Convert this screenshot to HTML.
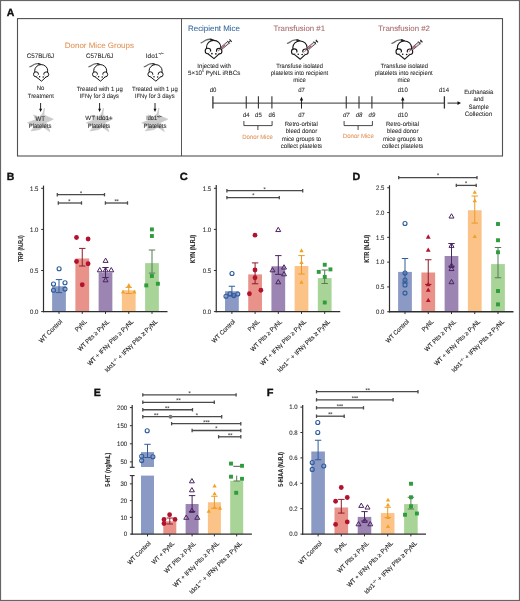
<!DOCTYPE html><html><head><meta charset="utf-8"><style>html,body{margin:0;padding:0;background:#fff;overflow:hidden}svg{display:block;will-change:transform}text{font-family:"Liberation Sans",sans-serif;text-rendering:geometricPrecision}</style></head><body>
<svg width="520" height="601" viewBox="0 0 520 601">
<defs><filter id="blur" x="-20%" y="-20%" width="140%" height="140%"><feGaussianBlur stdDeviation="0.5"/></filter></defs>
<rect x="0" y="0" width="520" height="601" fill="#fff"/>
<rect x="0.5" y="0.5" width="519" height="600" fill="none" stroke="#666" stroke-width="1.2"/>
<text x="6.65" y="15.9" font-size="10.4" fill="#111" font-weight="bold" textLength="7.60" lengthAdjust="spacingAndGlyphs" stroke="#111" stroke-width="0.35">A</text>
<rect x="17.5" y="18.6" width="485.0" height="137.4" fill="none" stroke="#505050" stroke-width="1.1"/>
<line x1="181.50" y1="18.60" x2="181.50" y2="156.00" stroke="#444" stroke-width="0.9"/>
<text x="64.75" y="47.75" font-size="7.9" fill="#e2955a" font-weight="normal" textLength="69.25" lengthAdjust="spacingAndGlyphs"  stroke="#e2955a" stroke-width="0.07">Donor Mice Groups</text>
<text x="26.65" y="58.1" font-size="6.6" fill="#2a2a2a" font-weight="normal" textLength="27.60" lengthAdjust="spacingAndGlyphs"  stroke="#2a2a2a" stroke-width="0.07">C57BL/6J</text>
<text x="86.00" y="58.1" font-size="6.6" fill="#2a2a2a" font-weight="normal" textLength="27.25" lengthAdjust="spacingAndGlyphs"  stroke="#2a2a2a" stroke-width="0.07">C57BL/6J</text>
<text x="145.8" y="58.1" font-size="6.6" fill="#2a2a2a" textLength="18.0" lengthAdjust="spacingAndGlyphs" stroke="#2a2a2a" stroke-width="0.07">Ido1<tspan font-size="3.8" dy="-2.8">−/−</tspan></text>
<g transform="translate(40.6 73.0) scale(1.0)"><path d="M0.4 -8.2 C-1.5 -9.5 -3.5 -9.9 -6 -8.8 C-7.8 -8 -9 -6.8 -10.8 -6.2" fill="none" stroke="#6a6a6a" stroke-width="1.15" stroke-linecap="round"/><path d="M0.8 -8.1 C-0.6 -8.9 -1.6 -9.3 -2.6 -9.4" fill="none" stroke="#222" stroke-width="1.4"/><ellipse cx="0.6" cy="-2.2" rx="6.5" ry="6.2" fill="#fff" stroke="#161616" stroke-width="1.0"/><circle cx="-4.6" cy="1.3" r="2.5" fill="#fff" stroke="#161616" stroke-width="1.0"/><circle cx="5.6" cy="1.4" r="2.5" fill="#fff" stroke="#161616" stroke-width="1.0"/><path d="M-4.5 3.75 L-2.25 1.75 L3.35 1.85 L5.5 3.85 L0.9 8.2 Z" fill="#fff"/><path d="M-4.6 3.75 L0.9 8.2 L5.6 3.85" fill="none" stroke="#161616" stroke-width="1.0" stroke-linejoin="round"/><circle cx="-1.0" cy="3.7" r="0.75" fill="#111"/><circle cx="2.6" cy="3.9" r="0.75" fill="#111"/></g>
<g transform="translate(99.6 73.0) scale(1.0)"><path d="M0.4 -8.2 C-1.5 -9.5 -3.5 -9.9 -6 -8.8 C-7.8 -8 -9 -6.8 -10.8 -6.2" fill="none" stroke="#6a6a6a" stroke-width="1.15" stroke-linecap="round"/><path d="M0.8 -8.1 C-0.6 -8.9 -1.6 -9.3 -2.6 -9.4" fill="none" stroke="#222" stroke-width="1.4"/><ellipse cx="0.6" cy="-2.2" rx="6.5" ry="6.2" fill="#fff" stroke="#161616" stroke-width="1.0"/><circle cx="-4.6" cy="1.3" r="2.5" fill="#fff" stroke="#161616" stroke-width="1.0"/><circle cx="5.6" cy="1.4" r="2.5" fill="#fff" stroke="#161616" stroke-width="1.0"/><path d="M-4.5 3.75 L-2.25 1.75 L3.35 1.85 L5.5 3.85 L0.9 8.2 Z" fill="#fff"/><path d="M-4.6 3.75 L0.9 8.2 L5.6 3.85" fill="none" stroke="#161616" stroke-width="1.0" stroke-linejoin="round"/><circle cx="-1.0" cy="3.7" r="0.75" fill="#111"/><circle cx="2.6" cy="3.9" r="0.75" fill="#111"/></g>
<g transform="translate(155.0 73.0) scale(1.0)"><path d="M0.4 -8.2 C-1.5 -9.5 -3.5 -9.9 -6 -8.8 C-7.8 -8 -9 -6.8 -10.8 -6.2" fill="none" stroke="#6a6a6a" stroke-width="1.15" stroke-linecap="round"/><path d="M0.8 -8.1 C-0.6 -8.9 -1.6 -9.3 -2.6 -9.4" fill="none" stroke="#222" stroke-width="1.4"/><ellipse cx="0.6" cy="-2.2" rx="6.5" ry="6.2" fill="#fff" stroke="#161616" stroke-width="1.0"/><circle cx="-4.6" cy="1.3" r="2.5" fill="#fff" stroke="#161616" stroke-width="1.0"/><circle cx="5.6" cy="1.4" r="2.5" fill="#fff" stroke="#161616" stroke-width="1.0"/><path d="M-4.5 3.75 L-2.25 1.75 L3.35 1.85 L5.5 3.85 L0.9 8.2 Z" fill="#fff"/><path d="M-4.6 3.75 L0.9 8.2 L5.6 3.85" fill="none" stroke="#161616" stroke-width="1.0" stroke-linejoin="round"/><circle cx="-1.0" cy="3.7" r="0.75" fill="#111"/><circle cx="2.6" cy="3.9" r="0.75" fill="#111"/></g>
<text x="40.6" y="90.4" font-size="6.3" text-anchor="middle" fill="#2a2a2a" font-weight="normal" textLength="7.67" lengthAdjust="spacingAndGlyphs"  stroke="#2a2a2a" stroke-width="0.07">No</text>
<text x="27.85" y="97.6" font-size="6.3" fill="#2a2a2a" font-weight="normal" textLength="25.90" lengthAdjust="spacingAndGlyphs"  stroke="#2a2a2a" stroke-width="0.07">Treatment</text>
<text x="76.65" y="90.6" font-size="6.3" fill="#2a2a2a" font-weight="normal" textLength="46.10" lengthAdjust="spacingAndGlyphs"  stroke="#2a2a2a" stroke-width="0.07">Treated with 1 μg</text>
<text x="79.75" y="97.6" font-size="6.3" fill="#2a2a2a" font-weight="normal" textLength="39.25" lengthAdjust="spacingAndGlyphs"  stroke="#2a2a2a" stroke-width="0.07">IFNγ for 3 days</text>
<text x="132.00" y="90.6" font-size="6.3" fill="#2a2a2a" font-weight="normal" textLength="45.75" lengthAdjust="spacingAndGlyphs"  stroke="#2a2a2a" stroke-width="0.07">Treated with 1 μg</text>
<text x="134.75" y="97.6" font-size="6.3" fill="#2a2a2a" font-weight="normal" textLength="39.90" lengthAdjust="spacingAndGlyphs"  stroke="#2a2a2a" stroke-width="0.07">IFNγ for 3 days</text>
<path d="M44.5 108.0 L43.8 115.0 L53.3 119.2 L46.1 122.5 L49.9 131.6 L43.1 127.0 L39.6 129.5 L31.0 130.9 L35.6 125.5 L27.4 122.8 L35.6 119.8 L33.7 115.0 L39.1 117.0 L42.6 114.0 Z" fill="#cbcbcb" stroke="#cbcbcb" stroke-width="0.8" stroke-linejoin="round" filter="url(#blur)"/>
<line x1="40.60" y1="103.00" x2="40.60" y2="109.50" stroke="#111" stroke-width="0.9"/>
<path d="M39.1 108.8 L42.1 108.8 L40.6 111.9 Z" fill="#111"/>
<path d="M103.5 108.0 L102.8 115.0 L112.3 119.2 L105.1 122.5 L108.9 131.6 L102.1 127.0 L98.6 129.5 L90.0 130.9 L94.6 125.5 L86.4 122.8 L94.6 119.8 L92.7 115.0 L98.1 117.0 L101.6 114.0 Z" fill="#cbcbcb" stroke="#cbcbcb" stroke-width="0.8" stroke-linejoin="round" filter="url(#blur)"/>
<line x1="99.60" y1="103.00" x2="99.60" y2="109.50" stroke="#111" stroke-width="0.9"/>
<path d="M98.1 108.8 L101.1 108.8 L99.6 111.9 Z" fill="#111"/>
<path d="M158.9 108.0 L158.2 115.0 L167.7 119.2 L160.5 122.5 L164.3 131.6 L157.5 127.0 L154.0 129.5 L145.4 130.9 L150.0 125.5 L141.8 122.8 L150.0 119.8 L148.1 115.0 L153.5 117.0 L157.0 114.0 Z" fill="#cbcbcb" stroke="#cbcbcb" stroke-width="0.8" stroke-linejoin="round" filter="url(#blur)"/>
<line x1="155.00" y1="103.00" x2="155.00" y2="109.50" stroke="#111" stroke-width="0.9"/>
<path d="M153.5 108.8 L156.5 108.8 L155.0 111.9 Z" fill="#111"/>
<text x="35.55" y="120.8" font-size="6.6" fill="#2a2a2a" font-weight="normal" textLength="9.60" lengthAdjust="spacingAndGlyphs"  stroke="#2a2a2a" stroke-width="0.07">WT</text>
<text x="28.75" y="127.6" font-size="6.3" fill="#2a2a2a" font-weight="normal" textLength="22.70" lengthAdjust="spacingAndGlyphs"  stroke="#2a2a2a" stroke-width="0.07">Platelets</text>
<text x="85.35" y="120.4" font-size="6.3" fill="#2a2a2a" font-weight="normal" textLength="27.40" lengthAdjust="spacingAndGlyphs"  stroke="#2a2a2a" stroke-width="0.07">WT Ido1+</text>
<text x="87.75" y="127.8" font-size="6.3" fill="#2a2a2a" font-weight="normal" textLength="22.50" lengthAdjust="spacingAndGlyphs"  stroke="#2a2a2a" stroke-width="0.07">Platelets</text>
<text x="154.0" y="120.4" font-size="6.3" text-anchor="middle" fill="#2a2a2a" textLength="15.5" lengthAdjust="spacingAndGlyphs" stroke="#2a2a2a" stroke-width="0.07">Ido1<tspan font-size="3.8" dy="-2.8">−/−</tspan></text>
<text x="155.0" y="127.8" font-size="6.3" text-anchor="middle" fill="#2a2a2a" font-weight="normal" textLength="23.01" lengthAdjust="spacingAndGlyphs"  stroke="#2a2a2a" stroke-width="0.07">Platelets</text>
<text x="188.00" y="31.25" font-size="7.9" fill="#3a6a9e" font-weight="normal" textLength="52.00" lengthAdjust="spacingAndGlyphs"  stroke="#3a6a9e" stroke-width="0.07">Recipient Mice</text>
<text x="273.50" y="31.25" font-size="7.8" fill="#aa6a6c" font-weight="normal" textLength="51.50" lengthAdjust="spacingAndGlyphs"  stroke="#aa6a6c" stroke-width="0.07">Transfusion #1</text>
<text x="378.25" y="31.25" font-size="7.8" fill="#aa6a6c" font-weight="normal" textLength="51.75" lengthAdjust="spacingAndGlyphs"  stroke="#aa6a6c" stroke-width="0.07">Transfusion #2</text>
<g transform="translate(213.0 49.6) scale(1.1)"><path d="M0.4 -8.2 C-1.5 -9.5 -3.5 -9.9 -6 -8.8 C-7.8 -8 -9 -6.8 -10.8 -6.2" fill="none" stroke="#6a6a6a" stroke-width="1.15" stroke-linecap="round"/><path d="M0.8 -8.1 C-0.6 -8.9 -1.6 -9.3 -2.6 -9.4" fill="none" stroke="#222" stroke-width="1.4"/><ellipse cx="0.6" cy="-2.2" rx="6.5" ry="6.2" fill="#fff" stroke="#161616" stroke-width="1.0"/><circle cx="-4.6" cy="1.3" r="2.5" fill="#fff" stroke="#161616" stroke-width="1.0"/><circle cx="5.6" cy="1.4" r="2.5" fill="#fff" stroke="#161616" stroke-width="1.0"/><path d="M-4.5 3.75 L-2.25 1.75 L3.35 1.85 L5.5 3.85 L0.9 8.2 Z" fill="#fff"/><path d="M-4.6 3.75 L0.9 8.2 L5.6 3.85" fill="none" stroke="#161616" stroke-width="1.0" stroke-linejoin="round"/><circle cx="-1.0" cy="3.7" r="0.75" fill="#111"/><circle cx="2.6" cy="3.9" r="0.75" fill="#111"/><g transform="translate(8.1 -1.6) rotate(-40)"><line x1="-4.6" y1="0" x2="0" y2="0" stroke="#a24c72" stroke-width="0.75"/><rect x="0" y="-1.05" width="7.9" height="2.1" fill="#ead3dc" stroke="#333" stroke-width="0.65"/><rect x="0.4" y="-0.6" width="3.2" height="1.2" fill="#b0587c"/><line x1="7.9" y1="-1.7" x2="7.9" y2="1.7" stroke="#333" stroke-width="0.7"/><line x1="7.9" y1="0" x2="10.3" y2="0" stroke="#333" stroke-width="0.8"/><line x1="10.3" y1="-1.5" x2="10.3" y2="1.5" stroke="#222" stroke-width="1.0"/></g></g>
<g transform="translate(299.3 50.2) scale(1.1)"><path d="M0.4 -8.2 C-1.5 -9.5 -3.5 -9.9 -6 -8.8 C-7.8 -8 -9 -6.8 -10.8 -6.2" fill="none" stroke="#6a6a6a" stroke-width="1.15" stroke-linecap="round"/><path d="M0.8 -8.1 C-0.6 -8.9 -1.6 -9.3 -2.6 -9.4" fill="none" stroke="#222" stroke-width="1.4"/><ellipse cx="0.6" cy="-2.2" rx="6.5" ry="6.2" fill="#fff" stroke="#161616" stroke-width="1.0"/><circle cx="-4.6" cy="1.3" r="2.5" fill="#fff" stroke="#161616" stroke-width="1.0"/><circle cx="5.6" cy="1.4" r="2.5" fill="#fff" stroke="#161616" stroke-width="1.0"/><path d="M-4.5 3.75 L-2.25 1.75 L3.35 1.85 L5.5 3.85 L0.9 8.2 Z" fill="#fff"/><path d="M-4.6 3.75 L0.9 8.2 L5.6 3.85" fill="none" stroke="#161616" stroke-width="1.0" stroke-linejoin="round"/><circle cx="-1.0" cy="3.7" r="0.75" fill="#111"/><circle cx="2.6" cy="3.9" r="0.75" fill="#111"/><g transform="translate(8.1 -1.6) rotate(-40)"><line x1="-4.6" y1="0" x2="0" y2="0" stroke="#a24c72" stroke-width="0.75"/><rect x="0" y="-1.05" width="7.9" height="2.1" fill="#ead3dc" stroke="#333" stroke-width="0.65"/><rect x="0.4" y="-0.6" width="3.2" height="1.2" fill="#b0587c"/><line x1="7.9" y1="-1.7" x2="7.9" y2="1.7" stroke="#333" stroke-width="0.7"/><line x1="7.9" y1="0" x2="10.3" y2="0" stroke="#333" stroke-width="0.8"/><line x1="10.3" y1="-1.5" x2="10.3" y2="1.5" stroke="#222" stroke-width="1.0"/></g></g>
<g transform="translate(403.8 50.2) scale(1.1)"><path d="M0.4 -8.2 C-1.5 -9.5 -3.5 -9.9 -6 -8.8 C-7.8 -8 -9 -6.8 -10.8 -6.2" fill="none" stroke="#6a6a6a" stroke-width="1.15" stroke-linecap="round"/><path d="M0.8 -8.1 C-0.6 -8.9 -1.6 -9.3 -2.6 -9.4" fill="none" stroke="#222" stroke-width="1.4"/><ellipse cx="0.6" cy="-2.2" rx="6.5" ry="6.2" fill="#fff" stroke="#161616" stroke-width="1.0"/><circle cx="-4.6" cy="1.3" r="2.5" fill="#fff" stroke="#161616" stroke-width="1.0"/><circle cx="5.6" cy="1.4" r="2.5" fill="#fff" stroke="#161616" stroke-width="1.0"/><path d="M-4.5 3.75 L-2.25 1.75 L3.35 1.85 L5.5 3.85 L0.9 8.2 Z" fill="#fff"/><path d="M-4.6 3.75 L0.9 8.2 L5.6 3.85" fill="none" stroke="#161616" stroke-width="1.0" stroke-linejoin="round"/><circle cx="-1.0" cy="3.7" r="0.75" fill="#111"/><circle cx="2.6" cy="3.9" r="0.75" fill="#111"/><g transform="translate(8.1 -1.6) rotate(-40)"><line x1="-4.6" y1="0" x2="0" y2="0" stroke="#a24c72" stroke-width="0.75"/><rect x="0" y="-1.05" width="7.9" height="2.1" fill="#ead3dc" stroke="#333" stroke-width="0.65"/><rect x="0.4" y="-0.6" width="3.2" height="1.2" fill="#b0587c"/><line x1="7.9" y1="-1.7" x2="7.9" y2="1.7" stroke="#333" stroke-width="0.7"/><line x1="7.9" y1="0" x2="10.3" y2="0" stroke="#333" stroke-width="0.8"/><line x1="10.3" y1="-1.5" x2="10.3" y2="1.5" stroke="#222" stroke-width="1.0"/></g></g>
<text x="197.35" y="67.5" font-size="6.3" fill="#2a2a2a" font-weight="normal" textLength="33.65" lengthAdjust="spacingAndGlyphs"  stroke="#2a2a2a" stroke-width="0.07">Injected with</text>
<text x="188" y="75" font-size="6.3" fill="#2a2a2a" textLength="52.3" lengthAdjust="spacingAndGlyphs" stroke="#2a2a2a" stroke-width="0.07">5×10<tspan font-size="3.4" dy="-2.6">5</tspan><tspan dy="2.6"> PyNL iRBCs</tspan></text>
<text x="276.25" y="67.5" font-size="6.3" fill="#2a2a2a" font-weight="normal" textLength="46.75" lengthAdjust="spacingAndGlyphs"  stroke="#2a2a2a" stroke-width="0.07">Transfuse isolated</text>
<text x="270.75" y="75.0" font-size="6.3" fill="#2a2a2a" font-weight="normal" textLength="57.50" lengthAdjust="spacingAndGlyphs"  stroke="#2a2a2a" stroke-width="0.07">platelets into recipient</text>
<text x="299.5" y="81.5" font-size="6.3" text-anchor="middle" fill="#2a2a2a" font-weight="normal" textLength="12.67" lengthAdjust="spacingAndGlyphs"  stroke="#2a2a2a" stroke-width="0.07">mice</text>
<text x="380.75" y="67.5" font-size="6.3" fill="#2a2a2a" font-weight="normal" textLength="47.25" lengthAdjust="spacingAndGlyphs"  stroke="#2a2a2a" stroke-width="0.07">Transfuse isolated</text>
<text x="375.00" y="75.0" font-size="6.3" fill="#2a2a2a" font-weight="normal" textLength="57.75" lengthAdjust="spacingAndGlyphs"  stroke="#2a2a2a" stroke-width="0.07">platelets into recipient</text>
<text x="403.875" y="81.5" font-size="6.3" text-anchor="middle" fill="#2a2a2a" font-weight="normal" textLength="12.67" lengthAdjust="spacingAndGlyphs"  stroke="#2a2a2a" stroke-width="0.07">mice</text>
<line x1="212.90" y1="103.10" x2="444.40" y2="103.10" stroke="#333" stroke-width="1.0"/>
<line x1="212.90" y1="96.30" x2="212.90" y2="108.60" stroke="#333" stroke-width="1.3"/>
<line x1="246.25" y1="96.30" x2="246.25" y2="108.60" stroke="#333" stroke-width="1.1"/>
<line x1="258.40" y1="96.30" x2="258.40" y2="108.60" stroke="#333" stroke-width="1.1"/>
<line x1="271.90" y1="96.30" x2="271.90" y2="108.60" stroke="#333" stroke-width="1.1"/>
<line x1="346.25" y1="96.30" x2="346.25" y2="108.60" stroke="#333" stroke-width="1.1"/>
<line x1="359.00" y1="96.30" x2="359.00" y2="108.60" stroke="#333" stroke-width="1.1"/>
<line x1="371.90" y1="96.30" x2="371.90" y2="108.60" stroke="#333" stroke-width="1.1"/>
<line x1="444.40" y1="96.30" x2="444.40" y2="108.60" stroke="#333" stroke-width="1.3"/>
<text x="213.0" y="92.3" font-size="6.3" text-anchor="middle" fill="#2a2a2a" font-weight="normal" textLength="6.67" lengthAdjust="spacingAndGlyphs"  stroke="#2a2a2a" stroke-width="0.07">d0</text>
<text x="444.0" y="92.0" font-size="6.3" text-anchor="middle" fill="#2a2a2a" font-weight="normal" textLength="10.01" lengthAdjust="spacingAndGlyphs"  stroke="#2a2a2a" stroke-width="0.07">d14</text>
<text x="246.25" y="117.2" font-size="6.3" text-anchor="middle" fill="#2a2a2a" font-weight="normal" textLength="6.67" lengthAdjust="spacingAndGlyphs"  stroke="#2a2a2a" stroke-width="0.07">d4</text>
<text x="258.4" y="117.2" font-size="6.3" text-anchor="middle" fill="#2a2a2a" font-weight="normal" textLength="6.67" lengthAdjust="spacingAndGlyphs"  stroke="#2a2a2a" stroke-width="0.07">d5</text>
<text x="271.9" y="117.2" font-size="6.3" text-anchor="middle" fill="#2a2a2a" font-weight="normal" textLength="6.67" lengthAdjust="spacingAndGlyphs"  stroke="#2a2a2a" stroke-width="0.07">d6</text>
<text x="346.25" y="117.2" font-size="6.3" text-anchor="middle" fill="#2a2a2a" font-weight="normal" textLength="6.67" lengthAdjust="spacingAndGlyphs" font-style="italic" stroke="#2a2a2a" stroke-width="0.07">d7</text>
<text x="359.0" y="117.2" font-size="6.3" text-anchor="middle" fill="#2a2a2a" font-weight="normal" textLength="6.67" lengthAdjust="spacingAndGlyphs" font-style="italic" stroke="#2a2a2a" stroke-width="0.07">d8</text>
<text x="371.9" y="117.2" font-size="6.3" text-anchor="middle" fill="#2a2a2a" font-weight="normal" textLength="6.67" lengthAdjust="spacingAndGlyphs" font-style="italic" stroke="#2a2a2a" stroke-width="0.07">d9</text>
<line x1="301.50" y1="108.60" x2="301.50" y2="99.50" stroke="#111" stroke-width="0.9"/>
<path d="M299.8 100.5 L303.2 100.5 L301.5 96.8 Z" fill="#111"/>
<text x="301.5" y="92.3" font-size="6.3" text-anchor="middle" fill="#2a2a2a" font-weight="normal" textLength="6.67" lengthAdjust="spacingAndGlyphs"  stroke="#2a2a2a" stroke-width="0.07">d7</text>
<text x="301.5" y="117.2" font-size="6.3" text-anchor="middle" fill="#2a2a2a" font-weight="normal" textLength="6.67" lengthAdjust="spacingAndGlyphs"  stroke="#2a2a2a" stroke-width="0.07">d7</text>
<line x1="402.75" y1="108.60" x2="402.75" y2="99.50" stroke="#111" stroke-width="0.9"/>
<path d="M401.05 100.5 L404.45 100.5 L402.75 96.8 Z" fill="#111"/>
<text x="402.75" y="92.3" font-size="6.3" text-anchor="middle" fill="#2a2a2a" font-weight="normal" textLength="10.01" lengthAdjust="spacingAndGlyphs"  stroke="#2a2a2a" stroke-width="0.07">d10</text>
<text x="402.75" y="117.2" font-size="6.3" text-anchor="middle" fill="#2a2a2a" font-weight="normal" textLength="10.01" lengthAdjust="spacingAndGlyphs"  stroke="#2a2a2a" stroke-width="0.07">d10</text>
<text x="284.75" y="125.6" font-size="6.3" fill="#2a2a2a" font-weight="normal" textLength="33.00" lengthAdjust="spacingAndGlyphs"  stroke="#2a2a2a" stroke-width="0.07">Retro-orbital</text>
<text x="285.75" y="133.1" font-size="6.3" fill="#2a2a2a" font-weight="normal" textLength="31.40" lengthAdjust="spacingAndGlyphs"  stroke="#2a2a2a" stroke-width="0.07">bleed donor</text>
<text x="281.65" y="140.6" font-size="6.3" fill="#2a2a2a" font-weight="normal" textLength="39.60" lengthAdjust="spacingAndGlyphs"  stroke="#2a2a2a" stroke-width="0.07">mice groups to</text>
<text x="280.75" y="147.6" font-size="6.3" fill="#2a2a2a" font-weight="normal" textLength="41.40" lengthAdjust="spacingAndGlyphs"  stroke="#2a2a2a" stroke-width="0.07">collect platelets</text>
<text x="386.00" y="125.6" font-size="6.3" fill="#2a2a2a" font-weight="normal" textLength="33.00" lengthAdjust="spacingAndGlyphs"  stroke="#2a2a2a" stroke-width="0.07">Retro-orbital</text>
<text x="387.00" y="133.1" font-size="6.3" fill="#2a2a2a" font-weight="normal" textLength="31.40" lengthAdjust="spacingAndGlyphs"  stroke="#2a2a2a" stroke-width="0.07">bleed donor</text>
<text x="382.90" y="140.6" font-size="6.3" fill="#2a2a2a" font-weight="normal" textLength="39.60" lengthAdjust="spacingAndGlyphs"  stroke="#2a2a2a" stroke-width="0.07">mice groups to</text>
<text x="382.00" y="147.6" font-size="6.3" fill="#2a2a2a" font-weight="normal" textLength="41.40" lengthAdjust="spacingAndGlyphs"  stroke="#2a2a2a" stroke-width="0.07">collect platelets</text>
<path d="M243.9 121.0 L243.9 125.6 L272.1 125.6 L272.1 121.0" fill="none" stroke="#333" stroke-width="0.9"/>
<line x1="257.90" y1="125.60" x2="257.90" y2="130.00" stroke="#333" stroke-width="0.9"/>
<text x="242.25" y="138.6" font-size="6.3" fill="#e2955a" font-weight="normal" textLength="30.50" lengthAdjust="spacingAndGlyphs"  stroke="#e2955a" stroke-width="0.07">Donor Mice</text>
<path d="M344.1 121.0 L344.1 125.6 L372.4 125.6 L372.4 121.0" fill="none" stroke="#333" stroke-width="0.9"/>
<line x1="358.10" y1="125.60" x2="358.10" y2="130.00" stroke="#333" stroke-width="0.9"/>
<text x="342.85" y="138.3" font-size="6.3" fill="#e2955a" font-weight="normal" textLength="30.90" lengthAdjust="spacingAndGlyphs"  stroke="#e2955a" stroke-width="0.07">Donor Mice</text>
<line x1="447.50" y1="103.10" x2="458.50" y2="103.10" stroke="#111" stroke-width="0.9"/>
<path d="M457.5 101.3 L461 103.1 L457.5 104.89999999999999 Z" fill="#111"/>
<text x="464.15" y="93.75" font-size="6.3" fill="#2a2a2a" font-weight="normal" textLength="29.20" lengthAdjust="spacingAndGlyphs"  stroke="#2a2a2a" stroke-width="0.07">Euthanasia</text>
<text x="478.6" y="101.3" font-size="6.3" text-anchor="middle" fill="#2a2a2a" font-weight="normal" textLength="10.01" lengthAdjust="spacingAndGlyphs"  stroke="#2a2a2a" stroke-width="0.07">and</text>
<text x="478.6" y="108.8" font-size="6.3" text-anchor="middle" fill="#2a2a2a" font-weight="normal" textLength="20.34" lengthAdjust="spacingAndGlyphs"  stroke="#2a2a2a" stroke-width="0.07">Sample</text>
<text x="464.75" y="116.3" font-size="6.3" fill="#2a2a2a" font-weight="normal" textLength="27.40" lengthAdjust="spacingAndGlyphs"  stroke="#2a2a2a" stroke-width="0.07">Collection</text>
<text x="6.65" y="179.8" font-size="10.4" fill="#111" font-weight="bold" textLength="7.60" lengthAdjust="spacingAndGlyphs" stroke="#111" stroke-width="0.35">B</text>
<rect x="52.12" y="286.25" width="13.75" height="25.35" fill="#8a9ac5"/>
<rect x="75.38" y="258.5" width="13.75" height="53.10" fill="#e8928a"/>
<rect x="98.62" y="272.5" width="13.75" height="39.10" fill="#9c85b3"/>
<rect x="121.88" y="290.3" width="13.75" height="21.30" fill="#fbc387"/>
<rect x="145.12" y="263.1" width="13.75" height="48.50" fill="#a9d497"/>
<line x1="59.00" y1="279.60" x2="59.00" y2="292.60" stroke="#2f5d9c" stroke-width="1.0"/>
<line x1="55.80" y1="279.60" x2="62.20" y2="279.60" stroke="#2f5d9c" stroke-width="1.0"/>
<line x1="55.80" y1="292.60" x2="62.20" y2="292.60" stroke="#2f5d9c" stroke-width="1.0"/>
<line x1="82.25" y1="248.40" x2="82.25" y2="266.00" stroke="#8e1a2c" stroke-width="1.0"/>
<line x1="79.05" y1="248.40" x2="85.45" y2="248.40" stroke="#8e1a2c" stroke-width="1.0"/>
<line x1="79.05" y1="266.00" x2="85.45" y2="266.00" stroke="#8e1a2c" stroke-width="1.0"/>
<line x1="105.50" y1="267.50" x2="105.50" y2="277.50" stroke="#4b2463" stroke-width="1.0"/>
<line x1="102.30" y1="267.50" x2="108.70" y2="267.50" stroke="#4b2463" stroke-width="1.0"/>
<line x1="102.30" y1="277.50" x2="108.70" y2="277.50" stroke="#4b2463" stroke-width="1.0"/>
<line x1="128.75" y1="287.40" x2="128.75" y2="293.50" stroke="#ec9a22" stroke-width="1.0"/>
<line x1="125.55" y1="287.40" x2="131.95" y2="287.40" stroke="#ec9a22" stroke-width="1.0"/>
<line x1="125.55" y1="293.50" x2="131.95" y2="293.50" stroke="#ec9a22" stroke-width="1.0"/>
<line x1="152.00" y1="250.00" x2="152.00" y2="273.10" stroke="#577a57" stroke-width="1.0"/>
<line x1="148.80" y1="250.00" x2="155.20" y2="250.00" stroke="#577a57" stroke-width="1.0"/>
<line x1="148.80" y1="273.10" x2="155.20" y2="273.10" stroke="#577a57" stroke-width="1.0"/>
<circle cx="59.1" cy="268.75" r="2.0" fill="none" stroke="#2f5d9c" stroke-width="1.15"/>
<circle cx="53.5" cy="284" r="2.0" fill="none" stroke="#2f5d9c" stroke-width="1.15"/>
<circle cx="65" cy="282.75" r="2.0" fill="none" stroke="#2f5d9c" stroke-width="1.15"/>
<circle cx="53.5" cy="290.25" r="2.0" fill="none" stroke="#2f5d9c" stroke-width="1.15"/>
<circle cx="65" cy="289.1" r="2.0" fill="none" stroke="#2f5d9c" stroke-width="1.15"/>
<circle cx="76.5" cy="237.5" r="2.4" fill="#b3122e"/>
<circle cx="88.1" cy="239" r="2.4" fill="#b3122e"/>
<circle cx="76.5" cy="261.5" r="2.4" fill="#b3122e"/>
<circle cx="88.1" cy="263.75" r="2.4" fill="#b3122e"/>
<circle cx="82.25" cy="284.75" r="2.4" fill="#b3122e"/>
<path d="M105.6 258.1 L108.1 262.40000000000003 L103.1 262.40000000000003 Z" fill="none" stroke="#4b2463" stroke-width="1.0" stroke-linejoin="round"/>
<path d="M99.75 267.5 L102.25 271.8 L97.25 271.8 Z" fill="none" stroke="#4b2463" stroke-width="1.0" stroke-linejoin="round"/>
<path d="M105.6 267.5 L108.1 271.8 L103.1 271.8 Z" fill="none" stroke="#4b2463" stroke-width="1.0" stroke-linejoin="round"/>
<path d="M111.25 267.5 L113.75 271.8 L108.75 271.8 Z" fill="none" stroke="#4b2463" stroke-width="1.0" stroke-linejoin="round"/>
<path d="M105.6 277.5 L108.1 281.8 L103.1 281.8 Z" fill="none" stroke="#4b2463" stroke-width="1.0" stroke-linejoin="round"/>
<path d="M128.85 283.0 L131.0 286.90000000000003 L126.69999999999999 286.90000000000003 Z" fill="#f2a125"/>
<path d="M123.1 289.7 L125.25 293.6 L120.94999999999999 293.6 Z" fill="#f2a125"/>
<path d="M134.3 289.7 L136.45000000000002 293.6 L132.15 293.6 Z" fill="#f2a125"/>
<rect x="149.95" y="227.45" width="3.9" height="3.9" fill="#2e9b3c"/>
<rect x="149.95" y="234.05" width="3.9" height="3.9" fill="#2e9b3c"/>
<rect x="149.95" y="274.05" width="3.9" height="3.9" fill="#2e9b3c"/>
<rect x="144.30" y="283.45" width="3.9" height="3.9" fill="#2e9b3c"/>
<rect x="155.95" y="281.80" width="3.9" height="3.9" fill="#2e9b3c"/>
<line x1="43.50" y1="185.60" x2="43.50" y2="312.20" stroke="#2e2e2e" stroke-width="1.2"/>
<line x1="42.90" y1="311.60" x2="167.50" y2="311.60" stroke="#2e2e2e" stroke-width="1.3"/>
<line x1="41.20" y1="311.60" x2="43.50" y2="311.60" stroke="#2e2e2e" stroke-width="1.0"/>
<text x="38.4" y="313.8" font-size="6.4" text-anchor="end" fill="#333" font-weight="normal" textLength="8.34" lengthAdjust="spacingAndGlyphs"  stroke="#333" stroke-width="0.1">0.0</text>
<line x1="41.20" y1="270.50" x2="43.50" y2="270.50" stroke="#2e2e2e" stroke-width="1.0"/>
<text x="38.4" y="272.7" font-size="6.4" text-anchor="end" fill="#333" font-weight="normal" textLength="8.34" lengthAdjust="spacingAndGlyphs"  stroke="#333" stroke-width="0.1">0.5</text>
<line x1="41.20" y1="229.40" x2="43.50" y2="229.40" stroke="#2e2e2e" stroke-width="1.0"/>
<text x="38.4" y="231.60000000000002" font-size="6.4" text-anchor="end" fill="#333" font-weight="normal" textLength="8.34" lengthAdjust="spacingAndGlyphs"  stroke="#333" stroke-width="0.1">1.0</text>
<line x1="41.20" y1="188.30" x2="43.50" y2="188.30" stroke="#2e2e2e" stroke-width="1.0"/>
<text x="38.4" y="190.5" font-size="6.4" text-anchor="end" fill="#333" font-weight="normal" textLength="8.34" lengthAdjust="spacingAndGlyphs"  stroke="#333" stroke-width="0.1">1.5</text>
<line x1="59.00" y1="311.60" x2="59.00" y2="313.90" stroke="#2e2e2e" stroke-width="1.0"/>
<line x1="82.25" y1="311.60" x2="82.25" y2="313.90" stroke="#2e2e2e" stroke-width="1.0"/>
<line x1="105.50" y1="311.60" x2="105.50" y2="313.90" stroke="#2e2e2e" stroke-width="1.0"/>
<line x1="128.75" y1="311.60" x2="128.75" y2="313.90" stroke="#2e2e2e" stroke-width="1.0"/>
<line x1="152.00" y1="311.60" x2="152.00" y2="313.90" stroke="#2e2e2e" stroke-width="1.0"/>
<text x="22.6" y="248.7" font-size="7.0" text-anchor="middle" fill="#262626" font-weight="bold" textLength="26.60" lengthAdjust="spacingAndGlyphs" transform="rotate(-90 22.6 248.7)" stroke="#262626" stroke-width="0.1">TRP (N.R.I)</text>
<text x="62.60" y="322.04" font-size="6.4" text-anchor="end" fill="#222" textLength="29.98" lengthAdjust="spacingAndGlyphs" transform="rotate(-45 62.60 322.04)" stroke="#222" stroke-width="0.1">WT Control</text>
<text x="87.25" y="322.04" font-size="6.4" text-anchor="end" fill="#222" textLength="13.94" lengthAdjust="spacingAndGlyphs" transform="rotate(-45 87.25 322.04)" stroke="#222" stroke-width="0.1">PyNL</text>
<text x="109.80" y="322.04" font-size="6.4" text-anchor="end" fill="#222" textLength="41.84" lengthAdjust="spacingAndGlyphs" transform="rotate(-45 109.80 322.04)" stroke="#222" stroke-width="0.1">WT Plts ≥ PyNL</text>
<text x="133.95" y="322.04" font-size="6.4" text-anchor="end" fill="#222" textLength="62.20" lengthAdjust="spacingAndGlyphs" transform="rotate(-45 133.95 322.04)" stroke="#222" stroke-width="0.1">WT + IFNγ Plts ≥ PyNL</text>
<text x="157.90" y="322.04" font-size="6.4" text-anchor="end" fill="#222" textLength="71.79" lengthAdjust="spacingAndGlyphs" transform="rotate(-45 157.90 322.04)" stroke="#222" stroke-width="0.1">Ido1<tspan font-size="3.4" dy="-2.4">−/−</tspan><tspan dy="2.4"> + IFNγ Plts ≥ PyNL</tspan></text>
<line x1="57.30" y1="194.70" x2="104.50" y2="194.70" stroke="#4a4a4a" stroke-width="1.3"/>
<line x1="57.30" y1="193.00" x2="57.30" y2="196.40" stroke="#4a4a4a" stroke-width="1.3"/>
<line x1="104.50" y1="193.00" x2="104.50" y2="196.40" stroke="#4a4a4a" stroke-width="1.3"/>
<text x="81.1" y="194.5" font-size="5.4" text-anchor="middle" fill="#444" font-weight="normal"  stroke="#444" stroke-width="0.1">*</text>
<line x1="58.30" y1="203.00" x2="81.50" y2="203.00" stroke="#4a4a4a" stroke-width="1.3"/>
<line x1="58.30" y1="201.30" x2="58.30" y2="204.70" stroke="#4a4a4a" stroke-width="1.3"/>
<line x1="81.50" y1="201.30" x2="81.50" y2="204.70" stroke="#4a4a4a" stroke-width="1.3"/>
<text x="69.4" y="202.8" font-size="5.4" text-anchor="middle" fill="#444" font-weight="normal"  stroke="#444" stroke-width="0.1">*</text>
<line x1="105.40" y1="203.00" x2="127.50" y2="203.00" stroke="#4a4a4a" stroke-width="1.3"/>
<line x1="105.40" y1="201.30" x2="105.40" y2="204.70" stroke="#4a4a4a" stroke-width="1.3"/>
<line x1="127.50" y1="201.30" x2="127.50" y2="204.70" stroke="#4a4a4a" stroke-width="1.3"/>
<text x="116.6" y="202.8" font-size="5.4" text-anchor="middle" fill="#444" font-weight="normal"  stroke="#444" stroke-width="0.1">**</text>
<text x="179.75" y="180.2" font-size="10.4" fill="#111" font-weight="bold" textLength="8.00" lengthAdjust="spacingAndGlyphs" stroke="#111" stroke-width="0.35">C</text>
<rect x="225.03" y="291.25" width="13.75" height="20.35" fill="#8a9ac5"/>
<rect x="248.22" y="274.4" width="13.75" height="37.20" fill="#e8928a"/>
<rect x="271.43" y="266.25" width="13.75" height="45.35" fill="#9c85b3"/>
<rect x="294.62" y="266.0" width="13.75" height="45.60" fill="#fbc387"/>
<rect x="317.82" y="278.1" width="13.75" height="33.50" fill="#a9d497"/>
<line x1="231.90" y1="286.25" x2="231.90" y2="296.00" stroke="#2f5d9c" stroke-width="1.0"/>
<line x1="228.70" y1="286.25" x2="235.10" y2="286.25" stroke="#2f5d9c" stroke-width="1.0"/>
<line x1="228.70" y1="296.00" x2="235.10" y2="296.00" stroke="#2f5d9c" stroke-width="1.0"/>
<line x1="255.10" y1="262.90" x2="255.10" y2="283.75" stroke="#8e1a2c" stroke-width="1.0"/>
<line x1="251.90" y1="262.90" x2="258.30" y2="262.90" stroke="#8e1a2c" stroke-width="1.0"/>
<line x1="251.90" y1="283.75" x2="258.30" y2="283.75" stroke="#8e1a2c" stroke-width="1.0"/>
<line x1="278.30" y1="255.60" x2="278.30" y2="274.40" stroke="#4b2463" stroke-width="1.0"/>
<line x1="275.10" y1="255.60" x2="281.50" y2="255.60" stroke="#4b2463" stroke-width="1.0"/>
<line x1="275.10" y1="274.40" x2="281.50" y2="274.40" stroke="#4b2463" stroke-width="1.0"/>
<line x1="301.50" y1="255.60" x2="301.50" y2="274.00" stroke="#ec9a22" stroke-width="1.0"/>
<line x1="298.30" y1="255.60" x2="304.70" y2="255.60" stroke="#ec9a22" stroke-width="1.0"/>
<line x1="298.30" y1="274.00" x2="304.70" y2="274.00" stroke="#ec9a22" stroke-width="1.0"/>
<line x1="324.70" y1="270.00" x2="324.70" y2="283.50" stroke="#577a57" stroke-width="1.0"/>
<line x1="321.50" y1="270.00" x2="327.90" y2="270.00" stroke="#577a57" stroke-width="1.0"/>
<line x1="321.50" y1="283.50" x2="327.90" y2="283.50" stroke="#577a57" stroke-width="1.0"/>
<circle cx="232" cy="273.5" r="2.0" fill="none" stroke="#2f5d9c" stroke-width="1.15"/>
<circle cx="226" cy="296.25" r="2.0" fill="none" stroke="#2f5d9c" stroke-width="1.15"/>
<circle cx="230" cy="293.75" r="2.0" fill="none" stroke="#2f5d9c" stroke-width="1.15"/>
<circle cx="233.75" cy="295.6" r="2.0" fill="none" stroke="#2f5d9c" stroke-width="1.15"/>
<circle cx="237.75" cy="294" r="2.0" fill="none" stroke="#2f5d9c" stroke-width="1.15"/>
<circle cx="255" cy="235.2" r="2.4" fill="#b3122e"/>
<circle cx="255" cy="270" r="2.4" fill="#b3122e"/>
<circle cx="255" cy="277.75" r="2.4" fill="#b3122e"/>
<circle cx="249.4" cy="293.75" r="2.4" fill="#b3122e"/>
<circle cx="260.9" cy="290.25" r="2.4" fill="#b3122e"/>
<path d="M278.25 227.25 L280.75 231.55 L275.75 231.55 Z" fill="none" stroke="#4b2463" stroke-width="1.0" stroke-linejoin="round"/>
<path d="M272.5 267.5 L275.0 271.8 L270.0 271.8 Z" fill="none" stroke="#4b2463" stroke-width="1.0" stroke-linejoin="round"/>
<path d="M284 264.75 L286.5 269.05 L281.5 269.05 Z" fill="none" stroke="#4b2463" stroke-width="1.0" stroke-linejoin="round"/>
<path d="M284 271.5 L286.5 275.8 L281.5 275.8 Z" fill="none" stroke="#4b2463" stroke-width="1.0" stroke-linejoin="round"/>
<path d="M278.25 279.5 L280.75 283.8 L275.75 283.8 Z" fill="none" stroke="#4b2463" stroke-width="1.0" stroke-linejoin="round"/>
<path d="M301.5 248.29999999999998 L303.65 252.2 L299.35 252.2 Z" fill="#f2a125"/>
<path d="M301.5 260.2 L303.65 264.1 L299.35 264.1 Z" fill="#f2a125"/>
<path d="M301.5 279.95 L303.65 283.85 L299.35 283.85 Z" fill="#f2a125"/>
<rect x="322.80" y="262.80" width="3.9" height="3.9" fill="#2e9b3c"/>
<rect x="316.80" y="269.95" width="3.9" height="3.9" fill="#2e9b3c"/>
<rect x="328.45" y="267.45" width="3.9" height="3.9" fill="#2e9b3c"/>
<rect x="322.80" y="274.95" width="3.9" height="3.9" fill="#2e9b3c"/>
<rect x="322.80" y="300.55" width="3.9" height="3.9" fill="#2e9b3c"/>
<line x1="216.25" y1="185.00" x2="216.25" y2="312.20" stroke="#2e2e2e" stroke-width="1.2"/>
<line x1="215.65" y1="311.60" x2="340.25" y2="311.60" stroke="#2e2e2e" stroke-width="1.3"/>
<line x1="213.95" y1="311.60" x2="216.25" y2="311.60" stroke="#2e2e2e" stroke-width="1.0"/>
<text x="211.15" y="313.8" font-size="6.4" text-anchor="end" fill="#333" font-weight="normal" textLength="8.34" lengthAdjust="spacingAndGlyphs"  stroke="#333" stroke-width="0.1">0.0</text>
<line x1="213.95" y1="270.50" x2="216.25" y2="270.50" stroke="#2e2e2e" stroke-width="1.0"/>
<text x="211.15" y="272.7" font-size="6.4" text-anchor="end" fill="#333" font-weight="normal" textLength="8.34" lengthAdjust="spacingAndGlyphs"  stroke="#333" stroke-width="0.1">0.5</text>
<line x1="213.95" y1="229.40" x2="216.25" y2="229.40" stroke="#2e2e2e" stroke-width="1.0"/>
<text x="211.15" y="231.60000000000002" font-size="6.4" text-anchor="end" fill="#333" font-weight="normal" textLength="8.34" lengthAdjust="spacingAndGlyphs"  stroke="#333" stroke-width="0.1">1.0</text>
<line x1="213.95" y1="188.30" x2="216.25" y2="188.30" stroke="#2e2e2e" stroke-width="1.0"/>
<text x="211.15" y="190.5" font-size="6.4" text-anchor="end" fill="#333" font-weight="normal" textLength="8.34" lengthAdjust="spacingAndGlyphs"  stroke="#333" stroke-width="0.1">1.5</text>
<line x1="231.90" y1="311.60" x2="231.90" y2="313.90" stroke="#2e2e2e" stroke-width="1.0"/>
<line x1="255.10" y1="311.60" x2="255.10" y2="313.90" stroke="#2e2e2e" stroke-width="1.0"/>
<line x1="278.30" y1="311.60" x2="278.30" y2="313.90" stroke="#2e2e2e" stroke-width="1.0"/>
<line x1="301.50" y1="311.60" x2="301.50" y2="313.90" stroke="#2e2e2e" stroke-width="1.0"/>
<line x1="324.70" y1="311.60" x2="324.70" y2="313.90" stroke="#2e2e2e" stroke-width="1.0"/>
<text x="195.1" y="248.79999999999998" font-size="7.0" text-anchor="middle" fill="#262626" font-weight="bold" textLength="28.20" lengthAdjust="spacingAndGlyphs" transform="rotate(-90 195.1 248.79999999999998)" stroke="#262626" stroke-width="0.1">KYN (N.R.I)</text>
<text x="235.50" y="322.04" font-size="6.4" text-anchor="end" fill="#222" textLength="29.98" lengthAdjust="spacingAndGlyphs" transform="rotate(-45 235.50 322.04)" stroke="#222" stroke-width="0.1">WT Control</text>
<text x="260.10" y="322.04" font-size="6.4" text-anchor="end" fill="#222" textLength="13.94" lengthAdjust="spacingAndGlyphs" transform="rotate(-45 260.10 322.04)" stroke="#222" stroke-width="0.1">PyNL</text>
<text x="282.60" y="322.04" font-size="6.4" text-anchor="end" fill="#222" textLength="41.84" lengthAdjust="spacingAndGlyphs" transform="rotate(-45 282.60 322.04)" stroke="#222" stroke-width="0.1">WT Plts ≥ PyNL</text>
<text x="306.70" y="322.04" font-size="6.4" text-anchor="end" fill="#222" textLength="62.20" lengthAdjust="spacingAndGlyphs" transform="rotate(-45 306.70 322.04)" stroke="#222" stroke-width="0.1">WT + IFNγ Plts ≥ PyNL</text>
<text x="330.60" y="322.04" font-size="6.4" text-anchor="end" fill="#222" textLength="71.79" lengthAdjust="spacingAndGlyphs" transform="rotate(-45 330.60 322.04)" stroke="#222" stroke-width="0.1">Ido1<tspan font-size="3.4" dy="-2.4">−/−</tspan><tspan dy="2.4"> + IFNγ Plts ≥ PyNL</tspan></text>
<line x1="226.90" y1="190.70" x2="302.70" y2="190.70" stroke="#4a4a4a" stroke-width="1.3"/>
<line x1="226.90" y1="189.00" x2="226.90" y2="192.40" stroke="#4a4a4a" stroke-width="1.3"/>
<line x1="302.70" y1="189.00" x2="302.70" y2="192.40" stroke="#4a4a4a" stroke-width="1.3"/>
<text x="264.6" y="190.5" font-size="5.4" text-anchor="middle" fill="#444" font-weight="normal"  stroke="#444" stroke-width="0.1">*</text>
<line x1="226.90" y1="197.60" x2="279.30" y2="197.60" stroke="#4a4a4a" stroke-width="1.3"/>
<line x1="226.90" y1="195.90" x2="226.90" y2="199.30" stroke="#4a4a4a" stroke-width="1.3"/>
<line x1="279.30" y1="195.90" x2="279.30" y2="199.30" stroke="#4a4a4a" stroke-width="1.3"/>
<text x="253.4" y="197.4" font-size="5.4" text-anchor="middle" fill="#444" font-weight="normal"  stroke="#444" stroke-width="0.1">*</text>
<text x="352.50" y="180.2" font-size="10.4" fill="#111" font-weight="bold" textLength="7.75" lengthAdjust="spacingAndGlyphs" stroke="#111" stroke-width="0.35">D</text>
<rect x="398.12" y="271.9" width="13.75" height="39.85" fill="#8a9ac5"/>
<rect x="421.38" y="272.5" width="13.75" height="39.25" fill="#e8928a"/>
<rect x="444.62" y="256.0" width="13.75" height="55.75" fill="#9c85b3"/>
<rect x="467.88" y="210.25" width="13.75" height="101.50" fill="#fbc387"/>
<rect x="491.12" y="264.1" width="13.75" height="47.65" fill="#a9d497"/>
<line x1="405.00" y1="258.50" x2="405.00" y2="282.90" stroke="#2f5d9c" stroke-width="1.0"/>
<line x1="401.80" y1="258.50" x2="408.20" y2="258.50" stroke="#2f5d9c" stroke-width="1.0"/>
<line x1="401.80" y1="282.90" x2="408.20" y2="282.90" stroke="#2f5d9c" stroke-width="1.0"/>
<line x1="428.25" y1="259.75" x2="428.25" y2="284.40" stroke="#8e1a2c" stroke-width="1.0"/>
<line x1="425.05" y1="259.75" x2="431.45" y2="259.75" stroke="#8e1a2c" stroke-width="1.0"/>
<line x1="425.05" y1="284.40" x2="431.45" y2="284.40" stroke="#8e1a2c" stroke-width="1.0"/>
<line x1="451.50" y1="243.50" x2="451.50" y2="266.25" stroke="#4b2463" stroke-width="1.0"/>
<line x1="448.30" y1="243.50" x2="454.70" y2="243.50" stroke="#4b2463" stroke-width="1.0"/>
<line x1="448.30" y1="266.25" x2="454.70" y2="266.25" stroke="#4b2463" stroke-width="1.0"/>
<line x1="474.75" y1="196.00" x2="474.75" y2="223.10" stroke="#ec9a22" stroke-width="1.0"/>
<line x1="471.55" y1="196.00" x2="477.95" y2="196.00" stroke="#ec9a22" stroke-width="1.0"/>
<line x1="471.55" y1="223.10" x2="477.95" y2="223.10" stroke="#ec9a22" stroke-width="1.0"/>
<line x1="498.00" y1="247.50" x2="498.00" y2="277.75" stroke="#577a57" stroke-width="1.0"/>
<line x1="494.80" y1="247.50" x2="501.20" y2="247.50" stroke="#577a57" stroke-width="1.0"/>
<line x1="494.80" y1="277.75" x2="501.20" y2="277.75" stroke="#577a57" stroke-width="1.0"/>
<circle cx="405" cy="223.5" r="2.0" fill="none" stroke="#2f5d9c" stroke-width="1.15"/>
<circle cx="405" cy="273" r="2.0" fill="none" stroke="#2f5d9c" stroke-width="1.15"/>
<circle cx="405" cy="280" r="2.0" fill="none" stroke="#2f5d9c" stroke-width="1.15"/>
<circle cx="405" cy="285" r="2.0" fill="none" stroke="#2f5d9c" stroke-width="1.15"/>
<circle cx="405" cy="293.1" r="2.0" fill="none" stroke="#2f5d9c" stroke-width="1.15"/>
<path d="M428.25 234.3 L430.65 238.70000000000002 L425.85 238.70000000000002 Z" fill="#b3122e"/>
<path d="M428.25 247.4 L430.65 251.8 L425.85 251.8 Z" fill="#b3122e"/>
<path d="M428.25 281.79999999999995 L430.65 286.2 L425.85 286.2 Z" fill="#b3122e"/>
<path d="M428.25 287.4 L430.65 291.8 L425.85 291.8 Z" fill="#b3122e"/>
<path d="M428.25 297.65 L430.65 302.05 L425.85 302.05 Z" fill="#b3122e"/>
<path d="M451.5 213.75 L454.0 218.05 L449.0 218.05 Z" fill="none" stroke="#4b2463" stroke-width="1.0" stroke-linejoin="round"/>
<path d="M451.5 243.1 L454.0 247.4 L449.0 247.4 Z" fill="none" stroke="#4b2463" stroke-width="1.0" stroke-linejoin="round"/>
<path d="M451.5 263.1 L454.0 267.40000000000003 L449.0 267.40000000000003 Z" fill="none" stroke="#4b2463" stroke-width="1.0" stroke-linejoin="round"/>
<path d="M451.5 266.25 L454.0 270.55 L449.0 270.55 Z" fill="none" stroke="#4b2463" stroke-width="1.0" stroke-linejoin="round"/>
<path d="M451.5 279.4 L454.0 283.7 L449.0 283.7 Z" fill="none" stroke="#4b2463" stroke-width="1.0" stroke-linejoin="round"/>
<path d="M474.75 189.95 L476.9 193.85 L472.6 193.85 Z" fill="#f2a125"/>
<path d="M474.75 198.29999999999998 L476.9 202.2 L472.6 202.2 Z" fill="#f2a125"/>
<path d="M474.75 234.2 L476.9 238.1 L472.6 238.1 Z" fill="#f2a125"/>
<rect x="496.05" y="222.05" width="3.9" height="3.9" fill="#2e9b3c"/>
<rect x="496.05" y="238.30" width="3.9" height="3.9" fill="#2e9b3c"/>
<rect x="496.05" y="250.30" width="3.9" height="3.9" fill="#2e9b3c"/>
<rect x="496.05" y="289.05" width="3.9" height="3.9" fill="#2e9b3c"/>
<rect x="496.05" y="302.45" width="3.9" height="3.9" fill="#2e9b3c"/>
<line x1="389.50" y1="185.25" x2="389.50" y2="312.35" stroke="#2e2e2e" stroke-width="1.2"/>
<line x1="388.90" y1="311.75" x2="513.50" y2="311.75" stroke="#2e2e2e" stroke-width="1.3"/>
<line x1="387.20" y1="311.75" x2="389.50" y2="311.75" stroke="#2e2e2e" stroke-width="1.0"/>
<text x="384.4" y="313.95" font-size="6.4" text-anchor="end" fill="#333" font-weight="normal" textLength="8.34" lengthAdjust="spacingAndGlyphs"  stroke="#333" stroke-width="0.1">0.0</text>
<line x1="387.20" y1="286.95" x2="389.50" y2="286.95" stroke="#2e2e2e" stroke-width="1.0"/>
<text x="384.4" y="289.15" font-size="6.4" text-anchor="end" fill="#333" font-weight="normal" textLength="8.34" lengthAdjust="spacingAndGlyphs"  stroke="#333" stroke-width="0.1">0.5</text>
<line x1="387.20" y1="262.15" x2="389.50" y2="262.15" stroke="#2e2e2e" stroke-width="1.0"/>
<text x="384.4" y="264.34999999999997" font-size="6.4" text-anchor="end" fill="#333" font-weight="normal" textLength="8.34" lengthAdjust="spacingAndGlyphs"  stroke="#333" stroke-width="0.1">1.0</text>
<line x1="387.20" y1="237.35" x2="389.50" y2="237.35" stroke="#2e2e2e" stroke-width="1.0"/>
<text x="384.4" y="239.54999999999998" font-size="6.4" text-anchor="end" fill="#333" font-weight="normal" textLength="8.34" lengthAdjust="spacingAndGlyphs"  stroke="#333" stroke-width="0.1">1.5</text>
<line x1="387.20" y1="212.55" x2="389.50" y2="212.55" stroke="#2e2e2e" stroke-width="1.0"/>
<text x="384.4" y="214.75" font-size="6.4" text-anchor="end" fill="#333" font-weight="normal" textLength="8.34" lengthAdjust="spacingAndGlyphs"  stroke="#333" stroke-width="0.1">2.0</text>
<line x1="387.20" y1="187.75" x2="389.50" y2="187.75" stroke="#2e2e2e" stroke-width="1.0"/>
<text x="384.4" y="189.95" font-size="6.4" text-anchor="end" fill="#333" font-weight="normal" textLength="8.34" lengthAdjust="spacingAndGlyphs"  stroke="#333" stroke-width="0.1">2.5</text>
<line x1="405.00" y1="311.75" x2="405.00" y2="314.05" stroke="#2e2e2e" stroke-width="1.0"/>
<line x1="428.25" y1="311.75" x2="428.25" y2="314.05" stroke="#2e2e2e" stroke-width="1.0"/>
<line x1="451.50" y1="311.75" x2="451.50" y2="314.05" stroke="#2e2e2e" stroke-width="1.0"/>
<line x1="474.75" y1="311.75" x2="474.75" y2="314.05" stroke="#2e2e2e" stroke-width="1.0"/>
<line x1="498.00" y1="311.75" x2="498.00" y2="314.05" stroke="#2e2e2e" stroke-width="1.0"/>
<text x="369.2" y="248.65" font-size="7.0" text-anchor="middle" fill="#262626" font-weight="bold" textLength="27.90" lengthAdjust="spacingAndGlyphs" transform="rotate(-90 369.2 248.65)" stroke="#262626" stroke-width="0.1">KTR (N.R.I)</text>
<text x="409.40" y="322.04" font-size="6.4" text-anchor="end" fill="#222" textLength="29.98" lengthAdjust="spacingAndGlyphs" transform="rotate(-45 409.40 322.04)" stroke="#222" stroke-width="0.1">WT Control</text>
<text x="434.05" y="322.04" font-size="6.4" text-anchor="end" fill="#222" textLength="13.94" lengthAdjust="spacingAndGlyphs" transform="rotate(-45 434.05 322.04)" stroke="#222" stroke-width="0.1">PyNL</text>
<text x="456.60" y="322.04" font-size="6.4" text-anchor="end" fill="#222" textLength="41.84" lengthAdjust="spacingAndGlyphs" transform="rotate(-45 456.60 322.04)" stroke="#222" stroke-width="0.1">WT Plts ≥ PyNL</text>
<text x="480.75" y="322.04" font-size="6.4" text-anchor="end" fill="#222" textLength="62.20" lengthAdjust="spacingAndGlyphs" transform="rotate(-45 480.75 322.04)" stroke="#222" stroke-width="0.1">WT + IFNγ Plts ≥ PyNL</text>
<text x="504.70" y="322.04" font-size="6.4" text-anchor="end" fill="#222" textLength="71.79" lengthAdjust="spacingAndGlyphs" transform="rotate(-45 504.70 322.04)" stroke="#222" stroke-width="0.1">Ido1<tspan font-size="3.4" dy="-2.4">−/−</tspan><tspan dy="2.4"> + IFNγ Plts ≥ PyNL</tspan></text>
<line x1="398.70" y1="177.60" x2="477.00" y2="177.60" stroke="#4a4a4a" stroke-width="1.3"/>
<line x1="398.70" y1="175.90" x2="398.70" y2="179.30" stroke="#4a4a4a" stroke-width="1.3"/>
<line x1="477.00" y1="175.90" x2="477.00" y2="179.30" stroke="#4a4a4a" stroke-width="1.3"/>
<text x="438.1" y="177.4" font-size="5.4" text-anchor="middle" fill="#444" font-weight="normal"  stroke="#444" stroke-width="0.1">*</text>
<line x1="456.30" y1="185.40" x2="476.20" y2="185.40" stroke="#4a4a4a" stroke-width="1.3"/>
<line x1="456.30" y1="183.70" x2="456.30" y2="187.10" stroke="#4a4a4a" stroke-width="1.3"/>
<line x1="476.20" y1="183.70" x2="476.20" y2="187.10" stroke="#4a4a4a" stroke-width="1.3"/>
<text x="466.1" y="185.20000000000002" font-size="5.4" text-anchor="middle" fill="#444" font-weight="normal"  stroke="#444" stroke-width="0.1">*</text>
<text x="93.75" y="395.9" font-size="10.4" fill="#111" font-weight="bold" textLength="7.10" lengthAdjust="spacingAndGlyphs" stroke="#111" stroke-width="0.35">E</text>
<rect x="141.0" y="452.1" width="13.0" height="14.90" fill="#8a9ac5"/>
<rect x="141.0" y="475.6" width="13.0" height="58.50" fill="#8a9ac5"/>
<rect x="163.30" y="521.25" width="13.0" height="12.85" fill="#e8928a"/>
<rect x="185.60" y="504.0" width="13.0" height="30.10" fill="#9c85b3"/>
<rect x="207.90" y="502.25" width="13.0" height="31.85" fill="#fbc387"/>
<rect x="230.20" y="480.8" width="13.0" height="53.30" fill="#a9d497"/>
<line x1="233.30" y1="466.30" x2="240.10" y2="466.30" stroke="#4a5a4a" stroke-width="1.0"/>
<line x1="236.70" y1="466.30" x2="236.70" y2="467.00" stroke="#577a57" stroke-width="1.0"/>
<line x1="236.70" y1="475.60" x2="236.70" y2="481.00" stroke="#577a57" stroke-width="1.0"/>
<line x1="233.50" y1="481.00" x2="239.90" y2="481.00" stroke="#577a57" stroke-width="1.0"/>
<line x1="147.50" y1="444.30" x2="147.50" y2="457.50" stroke="#2f5d9c" stroke-width="1.0"/>
<line x1="144.30" y1="444.30" x2="150.70" y2="444.30" stroke="#2f5d9c" stroke-width="1.0"/>
<line x1="144.30" y1="457.50" x2="150.70" y2="457.50" stroke="#2f5d9c" stroke-width="1.0"/>
<line x1="169.80" y1="518.00" x2="169.80" y2="524.00" stroke="#8e1a2c" stroke-width="1.0"/>
<line x1="166.60" y1="518.00" x2="173.00" y2="518.00" stroke="#8e1a2c" stroke-width="1.0"/>
<line x1="166.60" y1="524.00" x2="173.00" y2="524.00" stroke="#8e1a2c" stroke-width="1.0"/>
<line x1="192.10" y1="495.60" x2="192.10" y2="511.50" stroke="#4b2463" stroke-width="1.0"/>
<line x1="188.90" y1="495.60" x2="195.30" y2="495.60" stroke="#4b2463" stroke-width="1.0"/>
<line x1="188.90" y1="511.50" x2="195.30" y2="511.50" stroke="#4b2463" stroke-width="1.0"/>
<line x1="214.40" y1="496.25" x2="214.40" y2="508.25" stroke="#ec9a22" stroke-width="1.0"/>
<line x1="211.20" y1="496.25" x2="217.60" y2="496.25" stroke="#ec9a22" stroke-width="1.0"/>
<line x1="211.20" y1="508.25" x2="217.60" y2="508.25" stroke="#ec9a22" stroke-width="1.0"/>
<circle cx="147.2" cy="430.7" r="2.0" fill="none" stroke="#2f5d9c" stroke-width="1.15"/>
<circle cx="141.7" cy="456.25" r="2.0" fill="none" stroke="#2f5d9c" stroke-width="1.15"/>
<circle cx="141.7" cy="460.6" r="2.0" fill="none" stroke="#2f5d9c" stroke-width="1.15"/>
<circle cx="152.9" cy="456.7" r="2.0" fill="none" stroke="#2f5d9c" stroke-width="1.15"/>
<circle cx="169.6" cy="514.75" r="2.4" fill="#b3122e"/>
<circle cx="164" cy="519.4" r="2.4" fill="#b3122e"/>
<circle cx="175" cy="519.4" r="2.4" fill="#b3122e"/>
<circle cx="164" cy="523.5" r="2.4" fill="#b3122e"/>
<path d="M191.9 478.5 L194.4 482.8 L189.4 482.8 Z" fill="none" stroke="#4b2463" stroke-width="1.0" stroke-linejoin="round"/>
<path d="M191.9 487.5 L194.4 491.8 L189.4 491.8 Z" fill="none" stroke="#4b2463" stroke-width="1.0" stroke-linejoin="round"/>
<path d="M191.9 508.1 L194.4 512.4 L189.4 512.4 Z" fill="none" stroke="#4b2463" stroke-width="1.0" stroke-linejoin="round"/>
<path d="M186.25 515.0 L188.75 519.3 L183.75 519.3 Z" fill="none" stroke="#4b2463" stroke-width="1.0" stroke-linejoin="round"/>
<path d="M197.25 515.0 L199.75 519.3 L194.75 519.3 Z" fill="none" stroke="#4b2463" stroke-width="1.0" stroke-linejoin="round"/>
<path d="M214.6 483.7 L216.75 487.6 L212.45 487.6 Z" fill="#f2a125"/>
<path d="M214.6 491.45 L216.75 495.35 L212.45 495.35 Z" fill="#f2a125"/>
<path d="M214.6 505.2 L216.75 509.1 L212.45 509.1 Z" fill="#f2a125"/>
<path d="M208.75 508.95 L210.9 512.85 L206.6 512.85 Z" fill="#f2a125"/>
<path d="M220 505.8 L222.15 509.70000000000005 L217.85 509.70000000000005 Z" fill="#f2a125"/>
<rect x="229.05" y="461.65" width="3.9" height="3.9" fill="#2e9b3c"/>
<rect x="240.05" y="463.85" width="3.9" height="3.9" fill="#2e9b3c"/>
<rect x="229.05" y="474.75" width="3.9" height="3.9" fill="#2e9b3c"/>
<rect x="240.05" y="476.85" width="3.9" height="3.9" fill="#2e9b3c"/>
<rect x="234.25" y="490.85" width="3.9" height="3.9" fill="#2e9b3c"/>
<line x1="132.20" y1="405.00" x2="132.20" y2="467.30" stroke="#2e2e2e" stroke-width="1.2"/>
<line x1="129.80" y1="467.30" x2="134.60" y2="467.30" stroke="#2e2e2e" stroke-width="1.1"/>
<line x1="132.20" y1="475.60" x2="132.20" y2="534.70" stroke="#2e2e2e" stroke-width="1.2"/>
<line x1="129.80" y1="475.60" x2="134.60" y2="475.60" stroke="#2e2e2e" stroke-width="1.1"/>
<line x1="131.60" y1="534.10" x2="251.90" y2="534.10" stroke="#2e2e2e" stroke-width="1.3"/>
<line x1="129.90" y1="461.90" x2="132.20" y2="461.90" stroke="#2e2e2e" stroke-width="1.0"/>
<text x="127.1" y="464.09999999999997" font-size="6.4" text-anchor="end" fill="#333" font-weight="normal" textLength="6.67" lengthAdjust="spacingAndGlyphs"  stroke="#333" stroke-width="0.1">50</text>
<line x1="129.90" y1="443.80" x2="132.20" y2="443.80" stroke="#2e2e2e" stroke-width="1.0"/>
<text x="127.1" y="445.99999999999994" font-size="6.4" text-anchor="end" fill="#333" font-weight="normal" textLength="10.01" lengthAdjust="spacingAndGlyphs"  stroke="#333" stroke-width="0.1">100</text>
<line x1="129.90" y1="425.70" x2="132.20" y2="425.70" stroke="#2e2e2e" stroke-width="1.0"/>
<text x="127.1" y="427.9" font-size="6.4" text-anchor="end" fill="#333" font-weight="normal" textLength="10.01" lengthAdjust="spacingAndGlyphs"  stroke="#333" stroke-width="0.1">150</text>
<line x1="129.90" y1="407.60" x2="132.20" y2="407.60" stroke="#2e2e2e" stroke-width="1.0"/>
<text x="127.1" y="409.79999999999995" font-size="6.4" text-anchor="end" fill="#333" font-weight="normal" textLength="10.01" lengthAdjust="spacingAndGlyphs"  stroke="#333" stroke-width="0.1">200</text>
<line x1="129.90" y1="534.10" x2="132.20" y2="534.10" stroke="#2e2e2e" stroke-width="1.0"/>
<text x="127.1" y="536.3000000000001" font-size="6.4" text-anchor="end" fill="#333" font-weight="normal" textLength="3.34" lengthAdjust="spacingAndGlyphs"  stroke="#333" stroke-width="0.1">0</text>
<line x1="129.90" y1="517.35" x2="132.20" y2="517.35" stroke="#2e2e2e" stroke-width="1.0"/>
<text x="127.1" y="519.5500000000001" font-size="6.4" text-anchor="end" fill="#333" font-weight="normal" textLength="6.67" lengthAdjust="spacingAndGlyphs"  stroke="#333" stroke-width="0.1">10</text>
<line x1="129.90" y1="500.60" x2="132.20" y2="500.60" stroke="#2e2e2e" stroke-width="1.0"/>
<text x="127.1" y="502.8" font-size="6.4" text-anchor="end" fill="#333" font-weight="normal" textLength="6.67" lengthAdjust="spacingAndGlyphs"  stroke="#333" stroke-width="0.1">20</text>
<line x1="129.90" y1="483.85" x2="132.20" y2="483.85" stroke="#2e2e2e" stroke-width="1.0"/>
<text x="127.1" y="486.05" font-size="6.4" text-anchor="end" fill="#333" font-weight="normal" textLength="6.67" lengthAdjust="spacingAndGlyphs"  stroke="#333" stroke-width="0.1">30</text>
<line x1="147.50" y1="534.10" x2="147.50" y2="536.40" stroke="#2e2e2e" stroke-width="1.0"/>
<line x1="169.80" y1="534.10" x2="169.80" y2="536.40" stroke="#2e2e2e" stroke-width="1.0"/>
<line x1="192.10" y1="534.10" x2="192.10" y2="536.40" stroke="#2e2e2e" stroke-width="1.0"/>
<line x1="214.40" y1="534.10" x2="214.40" y2="536.40" stroke="#2e2e2e" stroke-width="1.0"/>
<line x1="236.70" y1="534.10" x2="236.70" y2="536.40" stroke="#2e2e2e" stroke-width="1.0"/>
<text x="109.6" y="469.775" font-size="7.0" text-anchor="middle" fill="#262626" font-weight="bold" textLength="34.05" lengthAdjust="spacingAndGlyphs" transform="rotate(-90 109.6 469.775)" stroke="#262626" stroke-width="0.1">5-HT (ng/mL)</text>
<text x="151.10" y="543.84" font-size="6.4" text-anchor="end" fill="#222" textLength="29.98" lengthAdjust="spacingAndGlyphs" transform="rotate(-45 151.10 543.84)" stroke="#222" stroke-width="0.1">WT Control</text>
<text x="174.80" y="543.84" font-size="6.4" text-anchor="end" fill="#222" textLength="29.19" lengthAdjust="spacingAndGlyphs" transform="rotate(-45 174.80 543.84)" stroke="#222" stroke-width="0.1">WT + PyNL</text>
<text x="196.40" y="543.84" font-size="6.4" text-anchor="end" fill="#222" textLength="41.84" lengthAdjust="spacingAndGlyphs" transform="rotate(-45 196.40 543.84)" stroke="#222" stroke-width="0.1">WT Plts ≥ PyNL</text>
<text x="219.60" y="543.84" font-size="6.4" text-anchor="end" fill="#222" textLength="62.20" lengthAdjust="spacingAndGlyphs" transform="rotate(-45 219.60 543.84)" stroke="#222" stroke-width="0.1">WT + IFNγ Plts ≥ PyNL</text>
<text x="242.60" y="543.84" font-size="6.4" text-anchor="end" fill="#222" textLength="71.79" lengthAdjust="spacingAndGlyphs" transform="rotate(-45 242.60 543.84)" stroke="#222" stroke-width="0.1">Ido1<tspan font-size="3.4" dy="-2.4">−/−</tspan><tspan dy="2.4"> + IFNγ Plts ≥ PyNL</tspan></text>
<line x1="142.80" y1="394.90" x2="236.10" y2="394.90" stroke="#4a4a4a" stroke-width="1.3"/>
<line x1="142.80" y1="393.20" x2="142.80" y2="396.60" stroke="#4a4a4a" stroke-width="1.3"/>
<line x1="236.10" y1="393.20" x2="236.10" y2="396.60" stroke="#4a4a4a" stroke-width="1.3"/>
<text x="189.6" y="394.7" font-size="5.4" text-anchor="middle" fill="#444" font-weight="normal"  stroke="#444" stroke-width="0.1">*</text>
<line x1="142.80" y1="402.30" x2="214.30" y2="402.30" stroke="#4a4a4a" stroke-width="1.3"/>
<line x1="142.80" y1="400.60" x2="142.80" y2="404.00" stroke="#4a4a4a" stroke-width="1.3"/>
<line x1="214.30" y1="400.60" x2="214.30" y2="404.00" stroke="#4a4a4a" stroke-width="1.3"/>
<text x="178.4" y="402.1" font-size="5.4" text-anchor="middle" fill="#444" font-weight="normal"  stroke="#444" stroke-width="0.1">**</text>
<line x1="142.80" y1="409.75" x2="192.50" y2="409.75" stroke="#4a4a4a" stroke-width="1.3"/>
<line x1="142.80" y1="408.05" x2="142.80" y2="411.45" stroke="#4a4a4a" stroke-width="1.3"/>
<line x1="192.50" y1="408.05" x2="192.50" y2="411.45" stroke="#4a4a4a" stroke-width="1.3"/>
<text x="167.2" y="409.55" font-size="5.4" text-anchor="middle" fill="#444" font-weight="normal"  stroke="#444" stroke-width="0.1">**</text>
<line x1="142.80" y1="416.70" x2="221.70" y2="416.70" stroke="#4a4a4a" stroke-width="1.3"/>
<line x1="142.80" y1="415.00" x2="142.80" y2="418.40" stroke="#4a4a4a" stroke-width="1.3"/>
<line x1="221.70" y1="415.00" x2="221.70" y2="418.40" stroke="#4a4a4a" stroke-width="1.3"/>
<text x="156.2" y="416.5" font-size="5.4" text-anchor="middle" fill="#444" font-weight="normal"  stroke="#444" stroke-width="0.1">**</text>
<text x="196.8" y="416.5" font-size="5.4" text-anchor="middle" fill="#444" font-weight="normal"  stroke="#444" stroke-width="0.1">*</text>
<circle cx="170.5" cy="416.7" r="2.0" fill="#777"/>
<line x1="171.60" y1="423.70" x2="240.80" y2="423.70" stroke="#4a4a4a" stroke-width="1.3"/>
<line x1="171.60" y1="422.00" x2="171.60" y2="425.40" stroke="#4a4a4a" stroke-width="1.3"/>
<line x1="240.80" y1="422.00" x2="240.80" y2="425.40" stroke="#4a4a4a" stroke-width="1.3"/>
<text x="206.5" y="423.5" font-size="5.4" text-anchor="middle" fill="#444" font-weight="normal"  stroke="#444" stroke-width="0.1">***</text>
<line x1="192.10" y1="430.50" x2="240.80" y2="430.50" stroke="#4a4a4a" stroke-width="1.3"/>
<line x1="192.10" y1="428.80" x2="192.10" y2="432.20" stroke="#4a4a4a" stroke-width="1.3"/>
<line x1="240.80" y1="428.80" x2="240.80" y2="432.20" stroke="#4a4a4a" stroke-width="1.3"/>
<text x="216.4" y="430.3" font-size="5.4" text-anchor="middle" fill="#444" font-weight="normal"  stroke="#444" stroke-width="0.1">*</text>
<line x1="218.60" y1="436.80" x2="240.80" y2="436.80" stroke="#4a4a4a" stroke-width="1.3"/>
<line x1="218.60" y1="435.10" x2="218.60" y2="438.50" stroke="#4a4a4a" stroke-width="1.3"/>
<line x1="240.80" y1="435.10" x2="240.80" y2="438.50" stroke="#4a4a4a" stroke-width="1.3"/>
<text x="230.2" y="436.6" font-size="5.4" text-anchor="middle" fill="#444" font-weight="normal"  stroke="#444" stroke-width="0.1">**</text>
<text x="266.65" y="396.3" font-size="10.4" fill="#111" font-weight="bold" textLength="6.70" lengthAdjust="spacingAndGlyphs" stroke="#111" stroke-width="0.35">F</text>
<rect x="311.30" y="451.5" width="13.6" height="82.60" fill="#8a9ac5"/>
<rect x="334.50" y="507.5" width="13.6" height="26.60" fill="#e8928a"/>
<rect x="357.70" y="516.9" width="13.6" height="17.20" fill="#9c85b3"/>
<rect x="380.90" y="513.1" width="13.6" height="21.00" fill="#fbc387"/>
<rect x="404.10" y="504.1" width="13.6" height="30.00" fill="#a9d497"/>
<line x1="318.10" y1="440.25" x2="318.10" y2="459.75" stroke="#2f5d9c" stroke-width="1.0"/>
<line x1="314.90" y1="440.25" x2="321.30" y2="440.25" stroke="#2f5d9c" stroke-width="1.0"/>
<line x1="314.90" y1="459.75" x2="321.30" y2="459.75" stroke="#2f5d9c" stroke-width="1.0"/>
<line x1="341.30" y1="499.40" x2="341.30" y2="513.10" stroke="#8e1a2c" stroke-width="1.0"/>
<line x1="338.10" y1="499.40" x2="344.50" y2="499.40" stroke="#8e1a2c" stroke-width="1.0"/>
<line x1="338.10" y1="513.10" x2="344.50" y2="513.10" stroke="#8e1a2c" stroke-width="1.0"/>
<line x1="364.50" y1="511.60" x2="364.50" y2="521.00" stroke="#4b2463" stroke-width="1.0"/>
<line x1="361.30" y1="511.60" x2="367.70" y2="511.60" stroke="#4b2463" stroke-width="1.0"/>
<line x1="361.30" y1="521.00" x2="367.70" y2="521.00" stroke="#4b2463" stroke-width="1.0"/>
<line x1="387.70" y1="507.25" x2="387.70" y2="517.50" stroke="#ec9a22" stroke-width="1.0"/>
<line x1="384.50" y1="507.25" x2="390.90" y2="507.25" stroke="#ec9a22" stroke-width="1.0"/>
<line x1="384.50" y1="517.50" x2="390.90" y2="517.50" stroke="#ec9a22" stroke-width="1.0"/>
<line x1="410.90" y1="497.25" x2="410.90" y2="509.00" stroke="#577a57" stroke-width="1.0"/>
<line x1="407.70" y1="497.25" x2="414.10" y2="497.25" stroke="#577a57" stroke-width="1.0"/>
<line x1="407.70" y1="509.00" x2="414.10" y2="509.00" stroke="#577a57" stroke-width="1.0"/>
<circle cx="317.75" cy="422.5" r="2.0" fill="none" stroke="#2f5d9c" stroke-width="1.15"/>
<circle cx="317.75" cy="432.5" r="2.0" fill="none" stroke="#2f5d9c" stroke-width="1.15"/>
<circle cx="312.25" cy="462.5" r="2.0" fill="none" stroke="#2f5d9c" stroke-width="1.15"/>
<circle cx="312.25" cy="469.4" r="2.0" fill="none" stroke="#2f5d9c" stroke-width="1.15"/>
<circle cx="323.75" cy="466" r="2.0" fill="none" stroke="#2f5d9c" stroke-width="1.15"/>
<circle cx="341.25" cy="487.5" r="2.4" fill="#b3122e"/>
<circle cx="347.25" cy="497.5" r="2.4" fill="#b3122e"/>
<circle cx="335.6" cy="501.25" r="2.4" fill="#b3122e"/>
<circle cx="335.6" cy="524.4" r="2.4" fill="#b3122e"/>
<circle cx="347.25" cy="521.9" r="2.4" fill="#b3122e"/>
<path d="M361.25 503.1 L363.75 507.40000000000003 L358.75 507.40000000000003 Z" fill="none" stroke="#4b2463" stroke-width="1.0" stroke-linejoin="round"/>
<path d="M367.5 504.75 L370.0 509.05 L365.0 509.05 Z" fill="none" stroke="#4b2463" stroke-width="1.0" stroke-linejoin="round"/>
<path d="M364.75 518.1 L367.25 522.4 L362.25 522.4 Z" fill="none" stroke="#4b2463" stroke-width="1.0" stroke-linejoin="round"/>
<path d="M358.5 521.5 L361.0 525.8 L356.0 525.8 Z" fill="none" stroke="#4b2463" stroke-width="1.0" stroke-linejoin="round"/>
<path d="M370.25 521.5 L372.75 525.8 L367.75 525.8 Z" fill="none" stroke="#4b2463" stroke-width="1.0" stroke-linejoin="round"/>
<path d="M388 497.7 L390.15 501.6 L385.85 501.6 Z" fill="#f2a125"/>
<path d="M388 502.7 L390.15 506.6 L385.85 506.6 Z" fill="#f2a125"/>
<path d="M388 515.2 L390.15 519.1 L385.85 519.1 Z" fill="#f2a125"/>
<path d="M388 524.2 L390.15 528.1 L385.85 528.1 Z" fill="#f2a125"/>
<rect x="409.05" y="481.80" width="3.9" height="3.9" fill="#2e9b3c"/>
<rect x="409.05" y="495.30" width="3.9" height="3.9" fill="#2e9b3c"/>
<rect x="409.05" y="504.30" width="3.9" height="3.9" fill="#2e9b3c"/>
<rect x="403.05" y="512.80" width="3.9" height="3.9" fill="#2e9b3c"/>
<rect x="414.95" y="511.55" width="3.9" height="3.9" fill="#2e9b3c"/>
<line x1="302.70" y1="405.00" x2="302.70" y2="534.70" stroke="#2e2e2e" stroke-width="1.2"/>
<line x1="302.10" y1="534.10" x2="426.00" y2="534.10" stroke="#2e2e2e" stroke-width="1.3"/>
<line x1="300.40" y1="534.10" x2="302.70" y2="534.10" stroke="#2e2e2e" stroke-width="1.0"/>
<text x="297.59999999999997" y="536.3000000000001" font-size="6.4" text-anchor="end" fill="#333" font-weight="normal" textLength="8.34" lengthAdjust="spacingAndGlyphs"  stroke="#333" stroke-width="0.1">0.0</text>
<line x1="300.40" y1="508.70" x2="302.70" y2="508.70" stroke="#2e2e2e" stroke-width="1.0"/>
<text x="297.59999999999997" y="510.90000000000003" font-size="6.4" text-anchor="end" fill="#333" font-weight="normal" textLength="8.34" lengthAdjust="spacingAndGlyphs"  stroke="#333" stroke-width="0.1">0.2</text>
<line x1="300.40" y1="483.30" x2="302.70" y2="483.30" stroke="#2e2e2e" stroke-width="1.0"/>
<text x="297.59999999999997" y="485.5" font-size="6.4" text-anchor="end" fill="#333" font-weight="normal" textLength="8.34" lengthAdjust="spacingAndGlyphs"  stroke="#333" stroke-width="0.1">0.4</text>
<line x1="300.40" y1="457.90" x2="302.70" y2="457.90" stroke="#2e2e2e" stroke-width="1.0"/>
<text x="297.59999999999997" y="460.1" font-size="6.4" text-anchor="end" fill="#333" font-weight="normal" textLength="8.34" lengthAdjust="spacingAndGlyphs"  stroke="#333" stroke-width="0.1">0.6</text>
<line x1="300.40" y1="432.50" x2="302.70" y2="432.50" stroke="#2e2e2e" stroke-width="1.0"/>
<text x="297.59999999999997" y="434.7" font-size="6.4" text-anchor="end" fill="#333" font-weight="normal" textLength="8.34" lengthAdjust="spacingAndGlyphs"  stroke="#333" stroke-width="0.1">0.8</text>
<line x1="300.40" y1="407.10" x2="302.70" y2="407.10" stroke="#2e2e2e" stroke-width="1.0"/>
<text x="297.59999999999997" y="409.3" font-size="6.4" text-anchor="end" fill="#333" font-weight="normal" textLength="8.34" lengthAdjust="spacingAndGlyphs"  stroke="#333" stroke-width="0.1">1.0</text>
<line x1="318.10" y1="534.10" x2="318.10" y2="536.40" stroke="#2e2e2e" stroke-width="1.0"/>
<line x1="341.30" y1="534.10" x2="341.30" y2="536.40" stroke="#2e2e2e" stroke-width="1.0"/>
<line x1="364.50" y1="534.10" x2="364.50" y2="536.40" stroke="#2e2e2e" stroke-width="1.0"/>
<line x1="387.70" y1="534.10" x2="387.70" y2="536.40" stroke="#2e2e2e" stroke-width="1.0"/>
<line x1="410.90" y1="534.10" x2="410.90" y2="536.40" stroke="#2e2e2e" stroke-width="1.0"/>
<text x="282.6" y="469.4" font-size="7.0" text-anchor="middle" fill="#262626" font-weight="bold" textLength="34.80" lengthAdjust="spacingAndGlyphs" transform="rotate(-90 282.6 469.4)" stroke="#262626" stroke-width="0.1">5-HIAA (N.R.I)</text>
<text x="322.30" y="543.64" font-size="6.4" text-anchor="end" fill="#222" textLength="29.98" lengthAdjust="spacingAndGlyphs" transform="rotate(-45 322.30 543.64)" stroke="#222" stroke-width="0.1">WT Control</text>
<text x="346.90" y="543.64" font-size="6.4" text-anchor="end" fill="#222" textLength="13.94" lengthAdjust="spacingAndGlyphs" transform="rotate(-45 346.90 543.64)" stroke="#222" stroke-width="0.1">PyNL</text>
<text x="369.40" y="543.64" font-size="6.4" text-anchor="end" fill="#222" textLength="41.84" lengthAdjust="spacingAndGlyphs" transform="rotate(-45 369.40 543.64)" stroke="#222" stroke-width="0.1">WT Plts ≥ PyNL</text>
<text x="393.50" y="543.64" font-size="6.4" text-anchor="end" fill="#222" textLength="62.20" lengthAdjust="spacingAndGlyphs" transform="rotate(-45 393.50 543.64)" stroke="#222" stroke-width="0.1">WT + IFNγ Plts ≥ PyNL</text>
<text x="417.40" y="543.64" font-size="6.4" text-anchor="end" fill="#222" textLength="71.79" lengthAdjust="spacingAndGlyphs" transform="rotate(-45 417.40 543.64)" stroke="#222" stroke-width="0.1">Ido1<tspan font-size="3.4" dy="-2.4">−/−</tspan><tspan dy="2.4"> + IFNγ Plts ≥ PyNL</tspan></text>
<line x1="316.50" y1="391.70" x2="418.00" y2="391.70" stroke="#4a4a4a" stroke-width="1.3"/>
<line x1="316.50" y1="390.00" x2="316.50" y2="393.40" stroke="#4a4a4a" stroke-width="1.3"/>
<line x1="418.00" y1="390.00" x2="418.00" y2="393.40" stroke="#4a4a4a" stroke-width="1.3"/>
<text x="367.7" y="391.5" font-size="5.4" text-anchor="middle" fill="#444" font-weight="normal"  stroke="#444" stroke-width="0.1">**</text>
<line x1="316.50" y1="399.80" x2="393.10" y2="399.80" stroke="#4a4a4a" stroke-width="1.3"/>
<line x1="316.50" y1="398.10" x2="316.50" y2="401.50" stroke="#4a4a4a" stroke-width="1.3"/>
<line x1="393.10" y1="398.10" x2="393.10" y2="401.50" stroke="#4a4a4a" stroke-width="1.3"/>
<text x="355.0" y="399.6" font-size="5.4" text-anchor="middle" fill="#444" font-weight="normal"  stroke="#444" stroke-width="0.1">***</text>
<line x1="316.50" y1="407.80" x2="363.50" y2="407.80" stroke="#4a4a4a" stroke-width="1.3"/>
<line x1="316.50" y1="406.10" x2="316.50" y2="409.50" stroke="#4a4a4a" stroke-width="1.3"/>
<line x1="363.50" y1="406.10" x2="363.50" y2="409.50" stroke="#4a4a4a" stroke-width="1.3"/>
<text x="340.0" y="407.6" font-size="5.4" text-anchor="middle" fill="#444" font-weight="normal"  stroke="#444" stroke-width="0.1">***</text>
<line x1="316.50" y1="416.20" x2="344.20" y2="416.20" stroke="#4a4a4a" stroke-width="1.3"/>
<line x1="316.50" y1="414.50" x2="316.50" y2="417.90" stroke="#4a4a4a" stroke-width="1.3"/>
<line x1="344.20" y1="414.50" x2="344.20" y2="417.90" stroke="#4a4a4a" stroke-width="1.3"/>
<text x="330.3" y="416.0" font-size="5.4" text-anchor="middle" fill="#444" font-weight="normal"  stroke="#444" stroke-width="0.1">**</text>
</svg></body></html>
